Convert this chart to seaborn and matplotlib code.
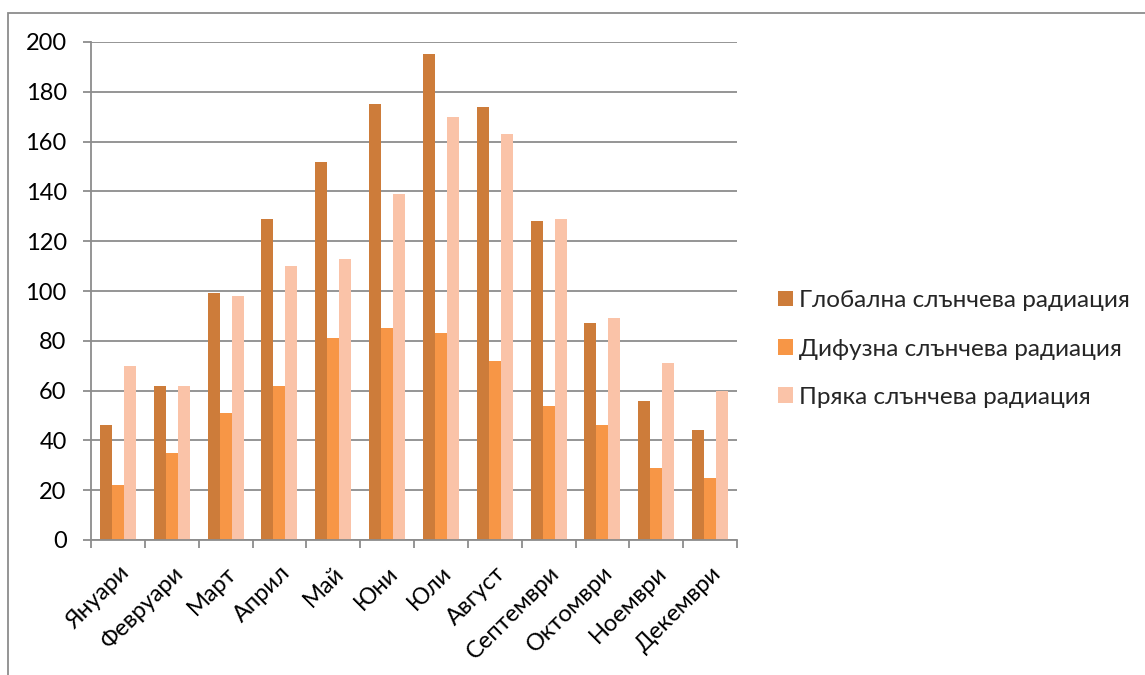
import matplotlib
matplotlib.use("Agg")
import matplotlib.pyplot as plt
from matplotlib.patches import Rectangle
from matplotlib.ticker import MultipleLocator, FixedLocator
import seaborn as sns
import pandas as pd

months = ["Януари", "Февруари", "Март", "Април", "Май", "Юни",
          "Юли", "Август", "Септември", "Октомври", "Ноември", "Декември"]
global_rad = [46, 62, 99, 129, 152, 175, 195, 174, 128, 87, 56, 44]
diffuse_rad = [22, 35, 51, 62, 81, 85, 83, 72, 54, 46, 29, 25]
direct_rad = [70, 62, 98, 110, 113, 139, 170, 163, 129, 89, 71, 60]
series_names = ["Глобална слънчева радиация",
                "Дифузна слънчева радиация",
                "Пряка слънчева радиация"]
palette = ["#CD7C3A", "#F79646", "#FAC3A8"]

df = pd.DataFrame({
    "month": months * 3,
    "value": global_rad + diffuse_rad + direct_rad,
    "series": [series_names[0]] * 12 + [series_names[1]] * 12 + [series_names[2]] * 12,
})

sns.set_theme(style="white")
plt.rcParams["font.family"] = ["Lato", "Noto Sans", "DejaVu Sans"]

W, H = 1145, 675
FS = 17
fig = plt.figure(figsize=(W / 100, H / 100), dpi=100)
fig.patch.set_facecolor("white")

# outer chart frame (left and top edges)
fig.patches.append(Rectangle((8 / W, -0.1), 1.2, (H - 13) / H + 0.1,
                             transform=fig.transFigure, fill=False,
                             edgecolor="#8C8C8C", linewidth=1.3, zorder=0))

ax = fig.add_axes([91 / W, (H - 540) / H, (737 - 91) / W, (540 - 42) / H])
sns.barplot(data=df, x="month", y="value", hue="series", order=months,
            hue_order=series_names, palette=palette, width=0.67, gap=0,
            saturation=1, ax=ax, edgecolor="none", linewidth=0)

grid_c = "#8C8C8C"
ax.set_ylim(0, 200)
ax.set_xlim(-0.5, 11.5)
ax.yaxis.set_major_locator(MultipleLocator(20))
ax.yaxis.grid(True, color=grid_c, linewidth=1.3)
ax.set_axisbelow(True)
ax.set_xlabel("")
ax.set_ylabel("")

for side in ["top", "right"]:
    ax.spines[side].set_visible(False)
for side in ["left", "bottom"]:
    ax.spines[side].set_color(grid_c)
    ax.spines[side].set_linewidth(1.3)

ax.tick_params(axis="y", which="major", direction="out", length=5.5, width=1.3,
               color=grid_c, left=True, pad=12, labelsize=FS, labelcolor="black")
ax.xaxis.set_minor_locator(FixedLocator([i - 0.5 for i in range(13)]))
ax.tick_params(axis="x", which="minor", direction="out", length=5.5, width=1.3,
               color=grid_c, bottom=True)
ax.tick_params(axis="x", which="major", length=0, pad=16, labelsize=FS,
               labelcolor="black")
for lbl in ax.get_xticklabels():
    lbl.set_rotation(45)
    lbl.set_ha("right")
    lbl.set_va("top")
    lbl.set_rotation_mode("anchor")

leg = ax.legend(loc="center left", bbox_to_anchor=(1.0635, (540 - 349) / 498),
                frameon=False, fontsize=17.5, handlelength=0.6, handleheight=0.6,
                handletextpad=0.25, labelspacing=1.12, borderpad=0,
                borderaxespad=0)

fig.savefig("out.png", dpi=100, facecolor="white")
